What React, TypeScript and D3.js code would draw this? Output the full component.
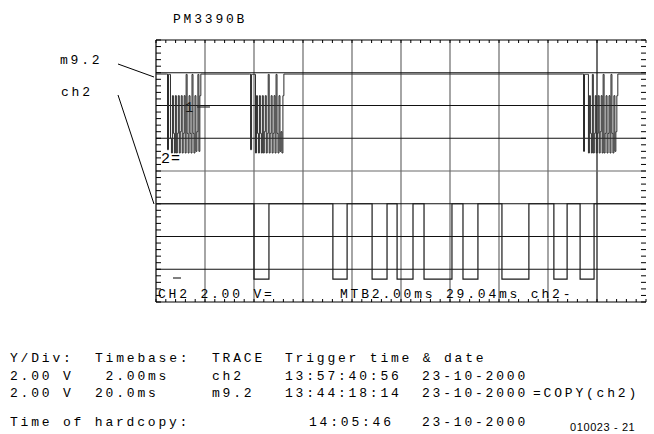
import React from "react";
import * as d3 from "d3";

// screen: 10 div x 8 div, ch2 at 2.00ms/div, m9.2 at 20.0ms/div, 2.00 V/div
const ch2High = -2.0;
const ch2Low = -6.6;
// ch2 low pulses, [fall ms, rise ms]
const ch2Pulses = [
  [4.0, 4.61],
  [7.22, 7.8],
  [8.82, 9.43],
  [9.84, 10.49],
  [10.94, 12.08],
  [12.53, 13.14],
  [14.12, 15.22],
  [16.24, 16.78],
  [17.31, 17.88],
];

const m92Base = 5.92;
const m92SampleMs = 0.4;
// bursts on the stored trace m9.2: start (ms) and sampled levels (V)
const m92Bursts = [
  {
    start: 4.3,
    samples: [1.3, 5.9, 5.9, 2.0, 1.1, 4.6, 2.3, 1.1, 4.6, 1.1, 2.3, 4.6, 1.1, 2.4, 4.6, 1.1, 2.3, 4.6, 1.1, 5.9, 2.3, 1.1, 4.6, 2.3, 1.1, 5.9, 2.3, 1.1, 4.6, 1.2, 2.4, 5.9, 1.2, 4.6],
  },
  {
    start: 38.2,
    samples: [1.3, 5.9, 5.9, 5.9, 5.9, 1.1, 4.6, 2.3, 1.1, 4.6, 2.3, 1.1, 4.6, 1.1, 2.4, 4.6, 1.1, 2.3, 5.9, 1.1, 2.3, 4.6, 1.1, 2.3, 4.6, 1.1, 5.9, 2.3, 1.1, 4.6, 1.2, 2.4, 1.1, 4.6],
  },
  {
    start: 174.1,
    samples: [1.2, 5.9, 5.9, 5.9, 5.9, 1.1, 4.6, 2.3, 1.1, 5.9, 1.1, 2.3, 4.6, 1.1, 2.3, 4.6, 1.1, 2.4, 4.6, 1.1, 5.9, 1.1, 2.3, 4.6, 1.1, 2.3, 4.6, 1.1, 5.9, 2.3, 1.1, 4.6, 1.2, 2.4, 4.6],
  },
];

const headerRow = ["Y/Div:", "Timebase:", "TRACE", "Trigger time & date"];
const rows = [
  ["2.00 V", " 2.00ms", "ch2", "13:57:40:56", "23-10-2000", ""],
  ["2.00 V", "20.0ms", "m9.2", "13:44:18:14", "23-10-2000", "=COPY(ch2)"],
];
const hardcopy = ["Time of hardcopy:", "14:05:46", "23-10-2000"];

const mono = "'Liberation Mono', 'Courier New', monospace";

export default function App() {
  const L = 156, R = 646, T = 40, B = 302;
  const x = d3.scaleLinear().domain([0, 20]).range([L, R]);
  const xm = d3.scaleLinear().domain([0, 200]).range([L, R]);
  const y = d3.scaleLinear().domain([-8, 8]).range([B, T]);

  const ch2Pts: [number, number][] = [[0, ch2High]];
  ch2Pulses.forEach(([f, r]) => {
    ch2Pts.push([f, ch2High], [f, ch2Low], [r, ch2Low], [r, ch2High]);
  });
  ch2Pts.push([20, ch2High]);
  const ch2Line = d3.line<[number, number]>().x((d) => x(d[0])).y((d) => y(d[1]));

  const m92Pts: [number, number][] = [[0, m92Base]];
  m92Bursts.forEach((b) => {
    m92Pts.push([b.start, m92Base]);
    b.samples.forEach((v, i) => m92Pts.push([b.start + (i + 1) * m92SampleMs, v]));
    m92Pts.push([b.start + (b.samples.length + 1) * m92SampleMs, m92Base]);
  });
  m92Pts.push([200, m92Base]);
  const m92Line = d3
    .line<[number, number]>()
    .x((d) => xm(d[0]))
    .y((d) => y(d[1]))
    .curve(d3.curveStepAfter);

  const vGrid = d3.range(2, 20, 2);
  const hGrid = d3.range(-6, 8, 2);
  const xMinor = d3.range(0, 20.01, 0.4);
  const yMinor = d3.range(-8, 8.01, 0.4);

  const txt = { fontFamily: mono, fontSize: 13, letterSpacing: 2.8, fill: "#000" } as const;
  const cols = [10, 95, 212, 285, 422, 533];

  return (
    <svg width={654} height={434} style={{ position: "absolute", left: 0, top: 0, background: "#fff" }}>
      <text x={173} y={23} {...txt}>PM3390B</text>

      {/* grid */}
      {vGrid.map((v) => (
        <line key={"v" + v} x1={x(v)} x2={x(v)} y1={T} y2={B} stroke={v === 18 ? "#111" : "#6a6a6a"} strokeWidth={1.2} />
      ))}
      {hGrid.map((v) => (
        <line key={"h" + v} x1={L} x2={R} y1={y(v)} y2={y(v)} stroke={v === 0 ? "#6a6a6a" : "#111"} strokeWidth={1.1} />
      ))}
      <line x1={L} x2={R} y1={T} y2={T} stroke="#000" strokeWidth={1.2} />
      <line x1={L} x2={R} y1={B} y2={B} stroke="#000" strokeWidth={1.2} />
      <line x1={L} x2={L} y1={T} y2={B} stroke="#000" strokeWidth={1.2} />
      {xMinor.map((v) => (
        <g key={"xt" + v}>
          <line x1={x(v)} x2={x(v)} y1={T} y2={T + 3} stroke="#000" />
          <line x1={x(v)} x2={x(v)} y1={B} y2={B - 3} stroke="#000" />
        </g>
      ))}
      {yMinor.map((v) => (
        <g key={"yt" + v}>
          <line x1={L} x2={L + 5} y1={y(v)} y2={y(v)} stroke="#000" />
          <line x1={R} x2={R - 5} y1={y(v)} y2={y(v)} stroke="#000" />
        </g>
      ))}

      {/* channel markers */}
      <text x={185} y={112} {...txt} fontSize={14}>1</text>
      <line x1={197} x2={210} y1={107} y2={107} stroke="#333" strokeWidth={1.2} />
      <text x={161} y={163} {...txt} fontSize={15} letterSpacing={1}>2=</text>
      <line x1={173} x2={181} y1={278} y2={278} stroke="#000" />

      {/* traces */}
      <path d={m92Line(m92Pts) || ""} fill="none" stroke="#2a2a2a" strokeWidth={1} />
      <path d={ch2Line(ch2Pts) || ""} fill="none" stroke="#1a1a1a" strokeWidth={1.2} />

      {/* screen readout */}
      <text x={158} y={298} {...txt}>CH2 2.00 V=</text>
      <text x={340} y={298} {...txt}>MTB2.00ms 29.04ms ch2-</text>

      {/* trace labels */}
      <text x={60} y={64} {...txt}>m9.2</text>
      <text x={61} y={96} {...txt}>ch2</text>
      <line x1={118} x2={154} y1={64} y2={77} stroke="#000" />
      <line x1={118} x2={154} y1={95} y2={204} stroke="#000" />

      {/* settings table */}
      {headerRow.map((s, i) => (
        <text key={"hr" + i} x={cols[i]} y={362} {...txt}>{s}</text>
      ))}
      {rows.map((r, j) =>
        r.map((s, i) => (
          <text key={"r" + j + i} x={cols[i]} y={380 + j * 17} {...txt} style={{ whiteSpace: "pre" }}>{s}</text>
        ))
      )}
      <text x={10} y={426} {...txt}>{hardcopy[0]}</text>
      <text x={309} y={426} {...txt}>{hardcopy[1]}</text>
      <text x={422} y={426} {...txt}>{hardcopy[2]}</text>
      <text x={570} y={431} fontFamily="'Liberation Sans', Arial, sans-serif" fontSize={11} letterSpacing={0.6}>010023 - 21</text>
    </svg>
  );
}
